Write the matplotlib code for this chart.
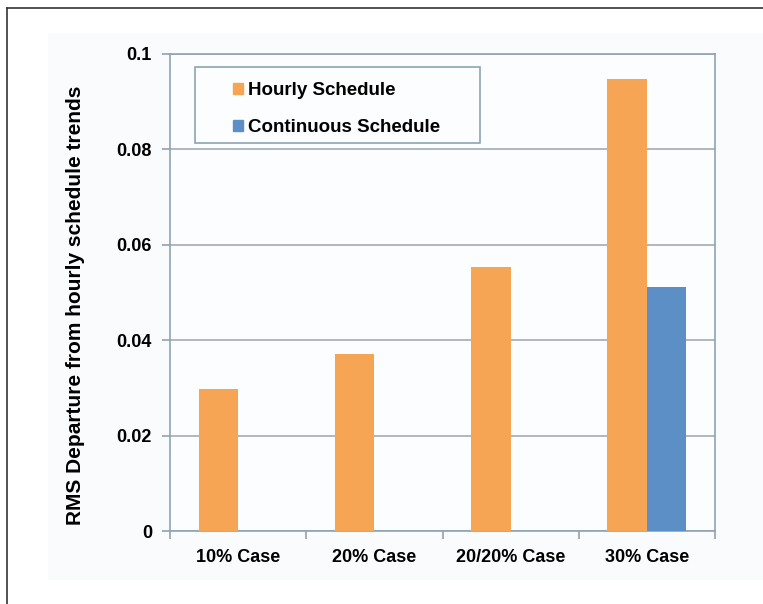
import matplotlib.pyplot as plt
import numpy as np
from matplotlib.patches import Patch, Rectangle
from matplotlib.lines import Line2D

categories = ["10% Case", "20% Case", "20/20% Case", "30% Case"]
hourly = [0.0297, 0.0372, 0.0554, 0.0947]
continuous = [0.0, 0.0, 0.0, 0.0511]
series_names = ["Hourly Schedule", "Continuous Schedule"]

plt.rcParams['font.family'] = ['Liberation Sans', 'DejaVu Sans']
plt.rcParams['font.weight'] = 'bold'

orange = "#F6A554"
blue = "#5B8FC6"
axis_col = "#8FA3B3"

fig = plt.figure(figsize=(7.63, 6.04), dpi=100)
fig.patch.set_facecolor("white")

# faint chart-area panel and the outer frame (only top/left visible)
fig.patches.append(Rectangle((48 / 763, 1 - 580 / 604), 1 - 48 / 763, (580 - 33) / 604,
                             transform=fig.transFigure, facecolor="#FAFBFD",
                             edgecolor="none", zorder=-5))
fig.lines.append(Line2D([7 / 763, 7 / 763], [0, 1 - 8 / 604], transform=fig.transFigure,
                        color="#333333", lw=1.2))
fig.lines.append(Line2D([7 / 763, 1], [1 - 8 / 604, 1 - 8 / 604], transform=fig.transFigure,
                        color="#333333", lw=1.2))

ax = fig.add_axes([170 / 763, 1 - 531 / 604, 545 / 763, 477 / 604])
ax.set_facecolor("#FCFDFE")

x = np.arange(len(categories))
w = 0.29
ax.bar(x - w / 2, hourly, w, color=orange, zorder=3)
ax.bar(x + w / 2, continuous, w, color=blue, zorder=3)

ax.set_xlim(-0.5, len(categories) - 0.5)
ax.set_ylim(0, 0.1)
ax.set_yticks([0, 0.02, 0.04, 0.06, 0.08, 0.1])
ax.set_yticklabels(["0", "0.02", "0.04", "0.06", "0.08", "0.1"])
ax.set_xticks(x)
ax.set_xticklabels(categories)
ax.set_xticks(np.arange(-0.5, len(categories) + 0.5, 1), minor=True)
ax.tick_params(axis='x', which='major', length=0, pad=13, labelsize=13)
ax.tick_params(axis='x', which='minor', length=6, color=axis_col, width=1.2)
ax.tick_params(axis='y', length=6, color=axis_col, width=1.2, pad=7, labelsize=13)

ax.grid(axis='y', color="#A3ACB4", lw=1.2, zorder=1)
for s in ax.spines.values():
    s.set_color(axis_col)
    s.set_linewidth(1.2)

ax.set_ylabel("RMS Departure from hourly schedule trends", fontsize=15,
              fontweight='bold')
ax.yaxis.set_label_coords(-(170 - 85) / 545, (531 - 305) / 477)

# legend box
ax.add_patch(Rectangle((25 / 545, (531 - 143) / 477), 285 / 545, 76 / 477,
                       transform=ax.transAxes, facecolor="#FCFDFE",
                       edgecolor=axis_col, lw=1.2, zorder=4))
handles = [Patch(color=orange), Patch(color=blue)]
ax.legend(handles, series_names, loc='upper left',
          bbox_to_anchor=(54 / 545, (531 - 73) / 477), frameon=False,
          fontsize=13.5, handlelength=0.5, handleheight=0.5,
          handletextpad=0.3, labelspacing=1.04, borderpad=0)

fig.savefig("out.png", dpi=100)
